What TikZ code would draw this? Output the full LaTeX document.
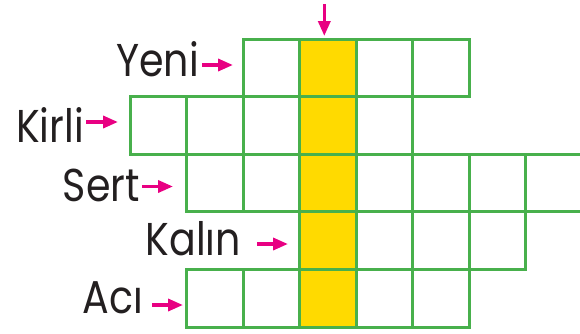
\documentclass[tikz,border=0pt]{standalone}
\usepackage{fontspec}
\usetikzlibrary{arrows.meta}
\newfontfamily\labfont[FakeStretch=0.86]{Poppins}
\definecolor{gridgreen}{RGB}{72,176,76}
\definecolor{cellyellow}{RGB}{255,218,0}
\definecolor{arrowpink}{RGB}{232,0,130}
\definecolor{labtext}{RGB}{35,31,32}
\begin{document}
\begin{tikzpicture}[x=1pt,y=-1pt,
  cell/.style={draw=gridgreen,line width=3pt,minimum width=56.5pt,minimum height=57.6pt,
    inner sep=0pt,outer sep=0pt,anchor=north west},
  ycell/.style={cell,fill=cellyellow},
  lab/.style={font=\labfont\fontsize{46}{46}\selectfont,inner sep=0pt,anchor=base east,text=labtext},
  pa/.style={draw=arrowpink,line width=3.5pt,-{Triangle[length=15pt,width=12pt]}}]
\useasboundingbox (0,0) rectangle (580,333);
% rows: row index/first col/last col ; yellow col = 3
\foreach \r/\a/\b in {0/2/5,1/0/4,2/1/7,3/3/6,4/1/5}{
  \foreach \k in {\a,...,\b}{
    \ifnum\k=3
      \node[ycell] (c-\r-\k) at ({130+56.5*\k},{39+57.6*\r}) {};
    \else
      \node[cell] (c-\r-\k) at ({130+56.5*\k},{39+57.6*\r}) {};
    \fi
  }
}
% labels
\node[lab] (yeni) at (199,76.7) {Yeni};
\node[lab] (kirli) at (84,142) {Kirli};
\node[lab] (sert) at (140,201.7) {Sert};
\node[lab] (kalin) at (241,255) {Kalın};
\node[lab] (aci) at (143,313.7) {Acı};
% arrow coordinates
\coordinate (ya) at (202,65);   \coordinate (yb) at (233,65);
\coordinate (ka) at (86,122);   \coordinate (kb) at (118,122);
\coordinate (sa) at (142,186.5);\coordinate (sb) at (173,186.5);
\coordinate (la) at (257,244);  \coordinate (lb) at (288,244);
\coordinate (aa) at (152,305);  \coordinate (ab) at (183,305);
\coordinate (ta) at (324.3,4);  \coordinate (tb) at (324.3,36);
\draw[pa] (ya) -- (yb);
\draw[pa] (ka) -- (kb);
\draw[pa] (sa) -- (sb);
\draw[pa] (la) -- (lb);
\draw[pa] (aa) -- (ab);
\draw[pa] (ta) -- (tb);
\end{tikzpicture}
\end{document}
